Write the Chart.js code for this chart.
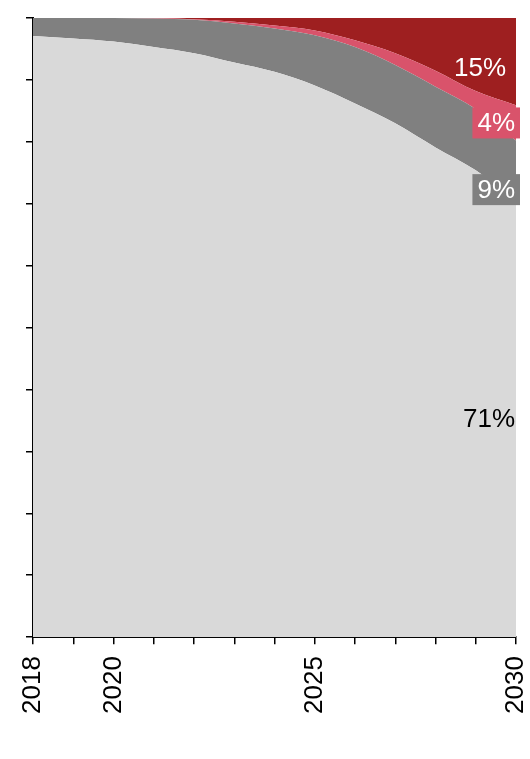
<!DOCTYPE html>
<html>
<head>
<meta charset="utf-8">
<script src="https://cdn.jsdelivr.net/npm/chart.js@4/dist/chart.umd.min.js"></script>
<style>
  html, body { margin: 0; padding: 0; background: #fff; }
  #wrap { width: 530px; height: 759px; position: relative; }
</style>
</head>
<body>
<div id="wrap"><canvas id="myChart"></canvas></div>
<script>
// categories
const years = [2018, 2019, 2020, 2021, 2022, 2023, 2024, 2025, 2026, 2027, 2028, 2029, 2030];
const shownYears = [2018, 2020, 2025, 2030];

// series values (share, %)
const lightGray = [97.1, 96.7, 96.2, 95.3, 94.3, 92.8, 91.3, 89.1, 86.2, 83.0, 79.1, 75.4, 70.5];
const darkGray  = [2.9, 3.3, 3.8, 4.6, 5.4, 6.3, 7.0, 8.1, 9.1, 9.4, 9.8, 9.9, 9.7];
const pink      = [0, 0, 0, 0.1, 0.1, 0.3, 0.5, 0.8, 1.1, 1.9, 2.6, 2.9, 5.7];
const darkRed   = [0, 0, 0, 0, 0.2, 0.6, 1.2, 2.0, 3.6, 5.7, 8.5, 11.8, 14.1];

// end labels
const endLabels = ['71%', '9%', '4%', '15%'];

const colors = ['#d9d9d9', '#808080', '#d9536b', '#9e1f20'];

// labels at the right end of each band
const endLabelPlugin = {
    id: 'endLabels',
    afterDatasetsDraw(chart) {
        const ctx = chart.ctx;
        const area = chart.chartArea;
        ctx.save();
        ctx.font = '26px "Liberation Sans", Arial, sans-serif';
        ctx.textAlign = 'right';
        ctx.textBaseline = 'middle';
        chart.data.datasets.forEach(function (ds, i) {
            const meta = chart.getDatasetMeta(i);
            const last = meta.data[meta.data.length - 1];
            const below = i === 0 ? area.bottom : chart.getDatasetMeta(i - 1).data[meta.data.length - 1].y;
            let y = (last.y + below) / 2;
            let x = area.right - 1;
            if (i === 3) { y += 6; x -= 9; }   // red label sits a bit inside
            if (i === 1) { y += 19; }          // grey label sits lower
            const text = endLabels[i];
            const w = ctx.measureText(text).width;
            if (i === 1 || i === 2) {
                ctx.fillStyle = ds.backgroundColor;
                ctx.fillRect(x - w - 5, y - 15.5, w + 10, 31);
            }
            ctx.fillStyle = i === 0 ? '#000' : '#fff';
            ctx.fillText(text, x, y + 1);
        });
        ctx.restore();
    }
};

// no extra side room for the rotated end labels
function noSidePadding(scale) {
    scale.paddingLeft = 0;
    scale.paddingRight = 0;
}

const ctx = document.getElementById('myChart').getContext('2d');
const series = [lightGray, darkGray, pink, darkRed];
new Chart(ctx, {
    type: 'line',
    data: {
        labels: years,
        datasets: series.map(function (values, i) {
            return {
                data: values,
                backgroundColor: colors[i],
                borderColor: colors[i],
                borderWidth: 0,
                pointRadius: 0,
                cubicInterpolationMode: 'monotone',
                fill: i === 0 ? 'origin' : '-1'
            };
        })
    },
    options: {
        responsive: true,
        maintainAspectRatio: false,
        animation: false,
        layout: { padding: { top: 18, right: 14, bottom: 33, left: 26 } },
        plugins: {
            legend: { display: false },
            tooltip: { enabled: false }
        },
        scales: {
            x: {
                offset: false,
                afterFit: noSidePadding,
                grid: {
                    drawOnChartArea: false,
                    drawTicks: true,
                    tickLength: 7,
                    color: '#000',
                    lineWidth: 1.5
                },
                border: { display: true, color: '#000', width: 2 },
                ticks: {
                    autoSkip: false,
                    minRotation: 90,
                    maxRotation: 90,
                    padding: 12,
                    color: '#000',
                    font: { size: 26, family: '"Liberation Sans", Arial, sans-serif' },
                    callback: function (value, index) {
                        return shownYears.includes(years[index]) ? String(years[index]) : '';
                    }
                }
            },
            y: {
                stacked: true,
                min: 0,
                max: 100,
                grid: {
                    drawOnChartArea: false,
                    drawTicks: true,
                    tickLength: 7,
                    color: '#000',
                    lineWidth: 1.5
                },
                border: { display: true, color: '#000', width: 2 },
                ticks: { stepSize: 10, display: false }
            }
        }
    },
    plugins: [endLabelPlugin]
});
</script>
</body>
</html>
